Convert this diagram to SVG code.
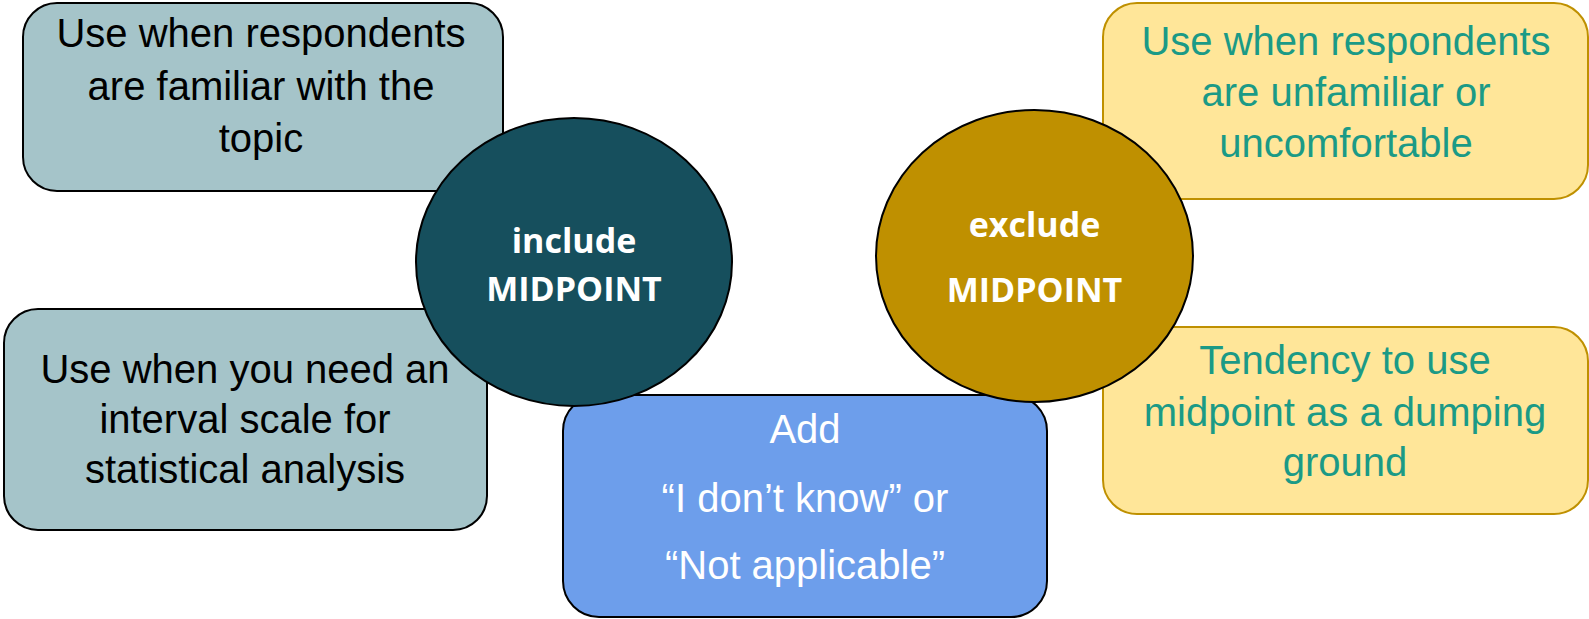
<svg xmlns="http://www.w3.org/2000/svg" width="1589" height="619" viewBox="0 0 1589 619">
<style>
.box{stroke-width:2}
.teal{fill:#A5C4C9;stroke:#000}
.yel{fill:#FFE699;stroke:#BF9000}
.blue{fill:#6D9EEB;stroke:#000}
.t{font-family:"Liberation Sans",Arial,sans-serif;font-size:40px;text-anchor:middle}
.dark{fill:#000}
.green{fill:#1B9A86}
.white{fill:#fff}
.c{font-family:"Open Sans",sans-serif;font-weight:bold;font-size:34px;text-anchor:middle;fill:#fff}
</style>
<rect width="1589" height="619" fill="#fff"/>
<g id="box-familiar">
<rect class="box teal" x="23" y="3" width="480" height="188" rx="34"/>
<text class="t dark" x="261" y="47">Use when respondents</text>
<text class="t dark" x="261" y="100">are familiar with the</text>
<text class="t dark" x="261" y="152">topic</text>
</g>
<g id="box-interval">
<rect class="box teal" x="4" y="309" width="483" height="221" rx="34"/>
<text class="t dark" x="245" y="383">Use when you need an</text>
<text class="t dark" x="245" y="433">interval scale for</text>
<text class="t dark" x="245" y="483">statistical analysis</text>
</g>
<g id="box-unfamiliar">
<rect class="box yel" x="1103" y="3" width="485" height="196" rx="34"/>
<text class="t green" x="1346" y="55">Use when respondents</text>
<text class="t green" x="1346" y="106">are unfamiliar or</text>
<text class="t green" x="1346" y="157">uncomfortable</text>
</g>
<g id="box-dumping">
<rect class="box yel" x="1103" y="327" width="485" height="187" rx="34"/>
<text class="t green" x="1345" y="374">Tendency to use</text>
<text class="t green" x="1345" y="426">midpoint as a dumping</text>
<text class="t green" x="1345" y="476">ground</text>
</g>
<g id="box-add">
<rect class="box blue" x="563" y="395" width="484" height="222" rx="36"/>
<text class="t white" x="805" y="443">Add</text>
<text class="t white" x="805" y="512">“I don’t know” or</text>
<text class="t white" x="805" y="579">“Not applicable”</text>
</g>
<g id="connectors"></g>
<g id="circle-include">
<ellipse cx="574" cy="262" rx="158" ry="144" fill="#164F5D" stroke="#000" stroke-width="2"/>
<text class="c" x="574" y="253">include</text>
<text class="c" x="574" y="301">MIDPOINT</text>
</g>
<g id="circle-exclude">
<ellipse cx="1034.5" cy="256" rx="158.5" ry="146" fill="#BF9000" stroke="#000" stroke-width="2"/>
<text class="c" x="1034.5" y="237">exclude</text>
<text class="c" x="1034.5" y="302">MIDPOINT</text>
</g>
</svg>
